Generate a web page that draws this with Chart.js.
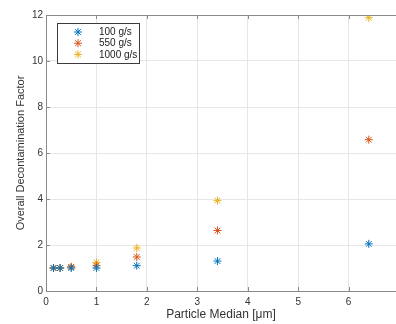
<!DOCTYPE html>
<html>
<head>
<meta charset="utf-8">
<script src="https://cdn.jsdelivr.net/npm/chart.js@4"></script>
<style>
  html, body { margin: 0; padding: 0; background: #fff; }
  #wrap { width: 396px; height: 324px; position: relative; }
</style>
</head>
<body>
<div id="wrap"><canvas id="chart" width="396" height="324"></canvas></div>
<script>
// particle median sizes (µm)
const sizes = [0.15, 0.28, 0.5, 1.0, 1.8, 3.4, 6.4];
// decontamination factor per flow rate
const flow100 = [1.0, 1.0, 1.0, 1.0, 1.1, 1.3, 2.05];
const flow550 = [1.0, 1.0, 1.05, 1.1, 1.48, 2.63, 6.58];
const flow1000 = [1.0, 1.0, 1.05, 1.24, 1.87, 3.93, 11.88];
const seriesLabels = ["100 g/s", "550 g/s", "1000 g/s"];
const xTicks = [0, 1, 2, 3, 4, 5, 6];
const yTicks = [0, 2, 4, 6, 8, 10, 12];

const colors = ["#0072BD", "#D95319", "#EDB120"];
const FONT = "'Liberation Sans', Arial, sans-serif";

function toPoints(ys) {
  return sizes.map((x, i) => ({ x: x, y: ys[i] }));
}

const datasets = [flow100, flow550, flow1000].map((ys, i) => ({
  label: seriesLabels[i],
  data: toPoints(ys),
  pointStyle: "star",
  radius: 4,
  borderWidth: 1,
  borderColor: colors[i],
  backgroundColor: colors[i],
  showLine: false,
}));

// frame on top, inward tick marks and the boxed legend, MATLAB-like
const matlabAxes = {
  id: "matlabAxes",
  afterDraw(chart) {
    const { ctx, chartArea: a, scales } = chart;
    ctx.save();
    ctx.strokeStyle = "#8a8a8a";
    ctx.lineWidth = 1;
    ctx.beginPath();
    ctx.moveTo(a.left, a.top + 0.5);
    ctx.lineTo(a.right, a.top + 0.5);
    xTicks.forEach(v => {
      const px = Math.round(scales.x.getPixelForValue(v)) + 0.5;
      ctx.moveTo(px, a.bottom);
      ctx.lineTo(px, a.bottom - 4);
      ctx.moveTo(px, a.top);
      ctx.lineTo(px, a.top + 4);
    });
    yTicks.forEach(v => {
      const py = Math.round(scales.y.getPixelForValue(v)) + 0.5;
      ctx.moveTo(a.left, py);
      ctx.lineTo(a.left + 4, py);
    });
    ctx.stroke();

    // legend box
    const lx = 57, ly = 23, lw = 82, lh = 40;
    ctx.fillStyle = "#fff";
    ctx.fillRect(lx, ly, lw, lh);
    ctx.strokeStyle = "#3c3c3c";
    ctx.strokeRect(lx + 0.5, ly + 0.5, lw, lh);
    ctx.font = "10px " + FONT;
    ctx.textBaseline = "middle";
    chart.data.datasets.forEach((ds, i) => {
      const cy = 32 + i * 11.2;
      const r = 4, d = r * Math.SQRT1_2;
      ctx.strokeStyle = ds.borderColor;
      ctx.lineWidth = 1;
      ctx.beginPath();
      ctx.moveTo(78 - r, cy); ctx.lineTo(78 + r, cy);
      ctx.moveTo(78, cy - r); ctx.lineTo(78, cy + r);
      ctx.moveTo(78 - d, cy - d); ctx.lineTo(78 + d, cy + d);
      ctx.moveTo(78 - d, cy + d); ctx.lineTo(78 + d, cy - d);
      ctx.stroke();
      ctx.fillStyle = "#1a1a1a";
      ctx.textAlign = "left";
      ctx.fillText(ds.label, 99, cy + 0.5);
    });
    ctx.restore();
  }
};

new Chart(document.getElementById("chart"), {
  type: "scatter",
  data: { datasets: datasets },
  plugins: [matlabAxes],
  options: {
    responsive: false,
    animation: false,
    layout: { autoPadding: false, padding: { top: 15, right: 0, left: 14, bottom: 0 } },
    plugins: {
      legend: { display: false },
      tooltip: { enabled: false },
    },
    scales: {
      x: {
        type: "linear",
        min: 0,
        max: 6.94,
        afterBuildTicks: s => { s.ticks = xTicks.map(v => ({ value: v })); },
        afterFit: s => { s.height = 33; },
        border: { color: "#8a8a8a", width: 1 },
        grid: { color: "#e6e6e6", drawTicks: false },
        ticks: {
          color: "#333",
          font: { family: FONT, size: 10 },
          padding: 5,
          maxRotation: 0,
        },
        title: {
          display: true,
          text: "Particle Median [\u03bcm]",
          color: "#333",
          font: { family: FONT, size: 12 },
          padding: { top: 0, bottom: 2 },
        },
      },
      y: {
        min: 0,
        max: 12,
        afterBuildTicks: s => { s.ticks = yTicks.map(v => ({ value: v })); },
        afterFit: s => { s.width = 32; },
        border: { color: "#8a8a8a", width: 1 },
        grid: { color: "#e6e6e6", drawTicks: false },
        ticks: {
          color: "#333",
          font: { family: FONT, size: 10 },
          padding: 3,
        },
        title: {
          display: true,
          text: "Overall Decontamination Factor",
          color: "#333",
          font: { family: FONT, size: 11 },
          padding: { top: 0, bottom: 0 },
        },
      },
    },
  },
});
</script>
</body>
</html>
